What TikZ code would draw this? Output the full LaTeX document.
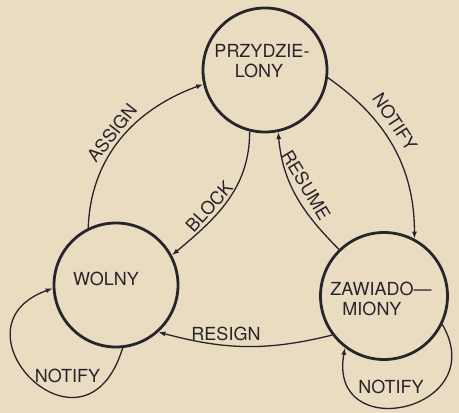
\documentclass[tikz,border=0pt]{standalone}
\usepackage{fontspec}
\setmainfont{TeX Gyre Heros}
\usetikzlibrary{arrows.meta}
\definecolor{paper}{RGB}{233,220,193}
\definecolor{ink}{RGB}{40,36,44}
\tikzset{
	state/.style={circle, draw=ink, line width=2.8pt, minimum size=124pt, inner sep=0pt},
	edge/.style={draw=ink, line width=1.3pt, -{Latex[length=7pt,width=5pt]}},
	lbl/.style={text=ink, inner sep=0pt, font=\fontsize{18}{20}\selectfont},
}
\begin{document}
\begin{tikzpicture}[x=1pt,y=1pt]
	\fill[paper] (0,0) rectangle (459,413);
	\useasboundingbox (0,0) rectangle (459,413);
	\node[state] (przy) at (265,343) {};
	\node[state] (wolny) at (116,128) {};
	\node[state, minimum size=127pt] (zaw) at (384,117) {};
	\node[lbl, align=center] (przyname) at (259,351.5) {PRZYDZIE\rlap{-}\\LONY};
	\node[lbl] (wolnyname) at (106,134) {WOLNY};
	\node[lbl, align=center] (zawname) at (372,114.5) {ZAWIADO\rlap{---}\\MIONY};
\draw[edge]
	(wolny.116) to[out=88,in=200]
	(przy.193);
\draw[edge]
	(przy.-7) to[out=-35,in=90]
	(zaw.62);
\draw[edge]
	(przy.256) to[out=-90,in=40]
	(wolny.28);
\draw[edge]
	(zaw.134) to[out=135,in=-85]
	(przy.282);
\draw[edge]
	(zaw.217) to[out=194,in=-15]
	(wolny.-48);
\draw[edge]
	(wolny.-84) to[out=-107,in=200,out distance=130,in distance=115]
	(wolny.183);
\draw[edge]
	(zaw.-26) to[out=-60,in=-100,out distance=100,in distance=100]
	(zaw.233);
	\node[lbl, rotate=52] (assign) at (112,280) {ASSIGN};
	\node[lbl, rotate=-57] (notifytop) at (395,291) {NOTIFY};
	\node[lbl, rotate=48] (block) at (209,206) {BLOCK};
	\node[lbl, rotate=-59] (resume) at (306,228) {RESUME};
	\node[lbl] (resign) at (226,79) {RESIGN};
	\node[lbl] (notifyleft) at (67.5,37.5) {NOTIFY};
	\node[lbl] (notifyright) at (391,26) {NOTIFY};
\end{tikzpicture}
\end{document}
